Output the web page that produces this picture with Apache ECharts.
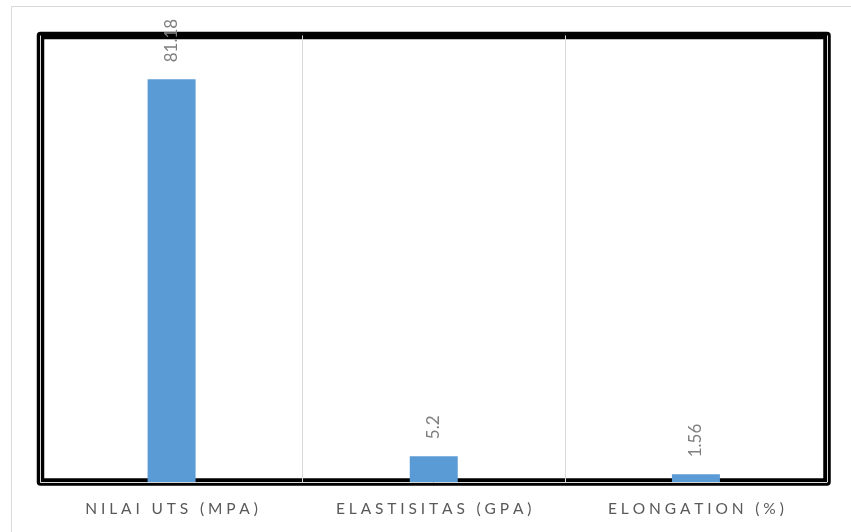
<!DOCTYPE html>
<html>
<head>
<meta charset="utf-8">
<script src="https://cdn.jsdelivr.net/npm/echarts@6/dist/echarts.min.js"></script>
<style>html,body{margin:0;padding:0;background:#fff;}#c{width:851px;height:532px;}</style>
</head>
<body>
<div id="c"></div>
<script>
const categories = ['NILAI UTS (MPA)', 'ELASTISITAS (GPA)', 'ELONGATION (%)'];
const values = [81.18, 5.2, 1.56];
const valueLabels = ['81.18', '5.2', '1.56'];

const chart = echarts.init(document.getElementById('c'));
chart.setOption({
  animation: false,
  backgroundColor: '#fff',
  graphic: [{
    type: 'rect', silent: true, z: -10,
    shape: { x: 11.5, y: 6.5, width: 860, height: 560 },
    style: { fill: 'none', stroke: '#d9d9d9', lineWidth: 1 }
  }, {
    type: 'rect', silent: true, z: -5,
    shape: { x: 40.5, y: 35.5, width: 786.5, height: 446.5 },
    style: { fill: 'none', stroke: '#000', lineWidth: 7.5, lineJoin: 'round' }
  }],
  grid: {
    left: 40.5, top: 35.5, right: 24, bottom: 50, show: false
  },
  xAxis: {
    type: 'category',
    data: categories,
    z: 3,
    axisLine: { show: true, lineStyle: { color: '#d9d9d9', width: 1 } },
    axisTick: { show: false, interval: 0 },
    splitLine: { show: true, interval: 0, lineStyle: { color: '#d9d9d9', width: 1 } },
    axisLabel: {
      interval: 0, hideOverlap: false,
      color: '#595959', fontFamily: 'Lato', fontSize: 15.5, margin: 19,
      formatter: v => v.split('').join('\u2005')
    }
  },
  yAxis: {
    type: 'value', min: 0, max: 90,
    show: false, splitLine: { show: false }
  },
  series: [{
    type: 'bar',
    data: values,
    barWidth: 48,
    z: 4,
    itemStyle: { color: '#5b9bd5' },
    label: {
      show: true, position: 'top', rotate: 90, distance: 17,
      align: 'left', verticalAlign: 'middle',
      color: '#7f7f7f', fontFamily: 'Lato', fontSize: 17,
      formatter: p => valueLabels[p.dataIndex]
    }
  }]
});
</script>
</body>
</html>
